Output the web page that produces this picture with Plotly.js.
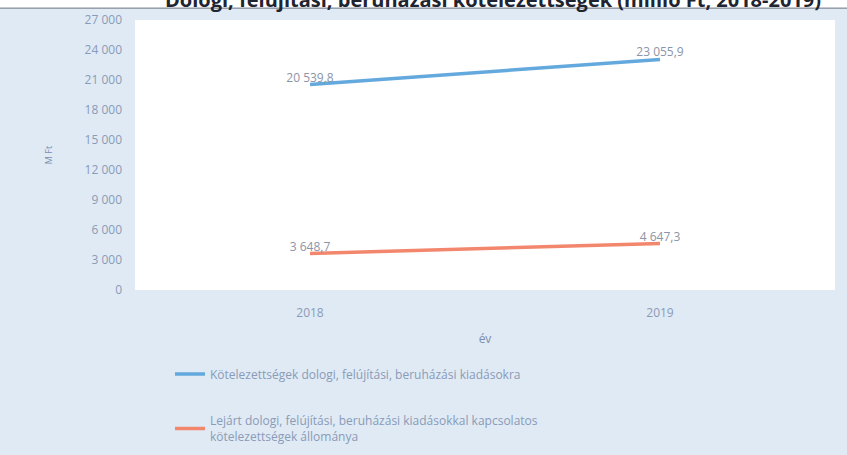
<!DOCTYPE html>
<html>
<head>
<meta charset="utf-8">
<script src="https://cdn.plot.ly/plotly-3.0.1.min.js"></script>
<style>html,body{margin:0;padding:0;background:#fff;}#chart{width:847px;height:455px;}</style>
</head>
<body>
<div id="chart"></div>
<script>
const years = ["2018", "2019"];
const seriesNames = [
  "Kötelezettségek dologi, felújítási, beruházási kiadásokra",
  "Lejárt dologi, felújítási, beruházási kiadásokkal kapcsolatos<br>kötelezettségek állománya"
];
const commitments = [20539.8, 23055.9];
const overdue = [3648.7, 4647.3];
const yTickVals = [0, 3000, 6000, 9000, 12000, 15000, 18000, 21000, 24000, 27000];
const yTickText = ["0", "3 000", "6 000", "9 000", "12 000", "15 000", "18 000", "21 000", "24 000", "27 000"];

function fmt(v) {
  const parts = v.toFixed(1).split(".");
  const intPart = parts[0].replace(/\B(?=(\d{3})+(?!\d))/g, " ");
  return intPart + "," + parts[1];
}

const traces = [
  {
    x: years, y: commitments, type: "scatter", mode: "lines+text",
    name: seriesNames[0], legendgroup: "a",
    line: {color: "#63a9de", width: 3.5},
    text: commitments.map(fmt), textposition: "top center",
    textfont: {family: "Open Sans", size: 12, color: "#8b94a8"},
    cliponaxis: false
  },
  {
    x: years, y: overdue, type: "scatter", mode: "lines+text",
    name: seriesNames[1], legendgroup: "b",
    line: {color: "#f3876e", width: 3.5},
    text: overdue.map(fmt), textposition: "top center",
    textfont: {family: "Open Sans", size: 12, color: "#8b94a8"},
    cliponaxis: false
  }
];

const layout = {
  width: 847, height: 455,
  paper_bgcolor: "#dfeaf4",
  plot_bgcolor: "#ffffff",
  margin: {l: 135, r: 12, t: 20, b: 165, autoexpand: false},
  font: {family: "Open Sans", color: "#8a9bb8"},
  title: {
    text: "<b>Dologi, felújítási, beruházási kötelezettségek (millió Ft, 2018-2019)</b>",
    font: {family: "Open Sans", size: 20, color: "#1e2430"},
    x: 0.98, xanchor: "right", xref: "paper",
    y: 1, yanchor: "middle"
  },
  xaxis: {
    type: "category", range: [-0.5, 1.5],
    showgrid: false, zeroline: false, showline: false,
    tickfont: {size: 12, color: "#8a9bb8"},
    ticklabelstandoff: 14,
    title: {text: "év", font: {size: 12, color: "#7d8fb0"}, standoff: 14},
    ticks: ""
  },
  yaxis: {
    range: [0, 27000],
    tickvals: yTickVals, ticktext: yTickText,
    showgrid: false, zeroline: false, showline: false,
    tickfont: {size: 12, color: "#8a9bb8"},
    ticklabelstandoff: 12,
    title: {text: "M Ft", font: {size: 9, color: "#7d8fb0"}, standoff: 30}
  },
  legend: {
    orientation: "v", x: 0.05, xanchor: "left",
    yref: "container", y: 0.21, yanchor: "top",
    bgcolor: "rgba(0,0,0,0)",
    font: {size: 12, color: "#8a9bb8"},
    tracegroupgap: 28, traceorder: "grouped",
    itemwidth: 30
  },
  shapes: [
    {type: "rect", xref: "paper", yref: "paper", x0: -0.2, x1: 1.02, y0: 1.044, y1: 1.08,
     fillcolor: "#ffffff", line: {width: 0}, layer: "below"},
    {type: "line", xref: "paper", yref: "paper", x0: -0.2, x1: 1.02, y0: 1.044, y1: 1.044,
     line: {color: "#6b7280", width: 1}}
  ],
  showlegend: true
};

Plotly.newPlot("chart", traces, layout, {displayModeBar: false, staticPlot: true});
</script>
</body>
</html>
